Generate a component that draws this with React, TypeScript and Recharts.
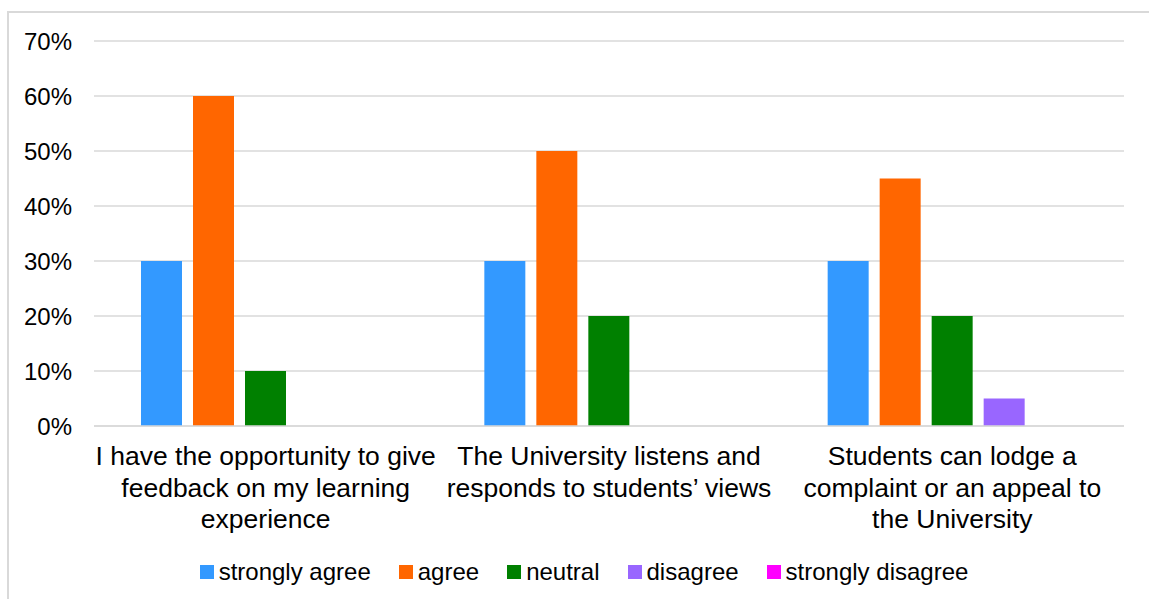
import React from "react";
import { BarChart, Bar, XAxis, YAxis, CartesianGrid, Legend } from "recharts";

const categories = [
  "I have the opportunity to give\nfeedback on my learning\nexperience",
  "The University listens and\nresponds to students\u2019 views",
  "Students can lodge a\ncomplaint or an appeal to\nthe University",
];

const stronglyAgree = [30, 30, 30];
const agree = [60, 50, 45];
const neutral = [10, 20, 20];
const disagree = [0, 0, 5];
const stronglyDisagree = [0, 0, 0];

const yTicks = [0, 10, 20, 30, 40, 50, 60, 70];

const series = [
  { key: "stronglyAgree", name: "strongly agree", color: "#3399FF", values: stronglyAgree },
  { key: "agree", name: "agree", color: "#FF6600", values: agree },
  { key: "neutral", name: "neutral", color: "#008000", values: neutral },
  { key: "disagree", name: "disagree", color: "#9966FF", values: disagree },
  { key: "stronglyDisagree", name: "strongly disagree", color: "#FF00FF", values: stronglyDisagree },
];

const data = categories.map((c, i) => {
  const row: Record<string, string | number> = { category: c };
  series.forEach((s) => {
    row[s.key] = s.values[i];
  });
  return row;
});

const FONT = '"Liberation Sans", Arial, sans-serif';

const CategoryTick = (props: any) => {
  const { x, y, payload } = props;
  const lines: string[] = String(payload.value).split("\n");
  return (
    <g transform={`translate(${x},${y})`}>
      <text
        textAnchor="middle"
        fontFamily={FONT}
        fontSize={26.5}
        fill="#000"
      >
        {lines.map((ln, i) => (
          <tspan key={i} x={0} y={31 + i * 31.5}>
            {ln}
          </tspan>
        ))}
      </text>
    </g>
  );
};

const LegendContent = () => (
  <div
    style={{
      display: "flex",
      justifyContent: "center",
      alignItems: "center",
      height: 30,
      fontFamily: FONT,
      fontSize: 24,
      color: "#000",
      paddingLeft: 44,
    }}
  >
    {series.map((s, i) => (
      <div
        key={s.key}
        style={{
          display: "flex",
          alignItems: "center",
          marginLeft: i === 0 ? 0 : 28,
        }}
      >
        <span
          style={{
            display: "inline-block",
            width: 14,
            height: 14,
            background: s.color,
            marginRight: 5,
          }}
        />
        <span>{s.name}</span>
      </div>
    ))}
  </div>
);

export default function App() {
  return (
    <div style={{ position: "absolute", left: 0, top: 0, width: 1149, height: 599, overflow: "hidden", background: "#fff" }}>
      <div
        style={{
          position: "absolute",
          left: 7,
          top: 11,
          width: 1200,
          height: 650,
          border: "2px solid #d9d9d9",
          boxSizing: "border-box",
        }}
      />
      <div style={{ position: "absolute", left: 0, top: 0 }}>
        <BarChart
          width={1149}
          height={599}
          data={data}
          margin={{ top: 41, right: 25, left: 0, bottom: 12 }}
          barSize={41}
          barGap={11}
        >
          <CartesianGrid vertical={false} stroke="#d9d9d9" strokeWidth={1.5} />
          <XAxis
            dataKey="category"
            axisLine={{ stroke: "#d9d9d9", strokeWidth: 1.5 }}
            tickLine={false}
            height={131}
            interval={0}
            tick={<CategoryTick />}
          />
          <YAxis
            domain={[0, 70]}
            ticks={yTicks}
            width={94}
            axisLine={false}
            tickLine={false}
            tickSize={0}
            tickMargin={22}
            tickFormatter={(v: number) => `${v}%`}
            tick={{ fontFamily: FONT, fontSize: 24, fill: "#000" }}
          />
          <Legend verticalAlign="bottom" height={30} content={<LegendContent />} />
          {series.map((s) => (
            <Bar key={s.key} dataKey={s.key} name={s.name} fill={s.color} isAnimationActive={false} />
          ))}
        </BarChart>
      </div>
    </div>
  );
}
